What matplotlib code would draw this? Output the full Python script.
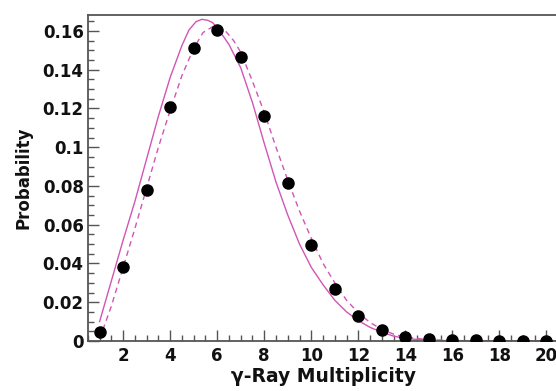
import matplotlib
matplotlib.use('Agg')
import matplotlib.pyplot as plt
from matplotlib.ticker import MultipleLocator, FuncFormatter

# measured multiplicity distribution
mult = [1, 2, 3, 4, 5, 6, 7, 8, 9, 10, 11, 12, 13, 14, 15, 16, 17, 18, 19, 20]
prob = [0.0048, 0.038, 0.078, 0.1206, 0.151, 0.1605, 0.1464, 0.1163, 0.0815, 0.0495,
        0.0268, 0.0129, 0.0057, 0.0022, 0.001, 0.0005, 0.0003, 0.0002, 0.0001, 0.0001]

# solid curve
solid_x = [1.0, 1.5, 2.0, 2.5, 3.0, 3.5, 4.0, 4.5, 4.8, 5.1, 5.35, 5.6, 5.8, 6.0, 6.5,
           7.0, 7.5, 8.0, 8.5, 9.0, 9.5, 10.0, 10.5, 11.0, 11.5, 12.0, 12.5, 13.0, 13.5,
           14.0, 15.0, 16.0, 18.0, 20.5]
solid_y = [0.010, 0.031, 0.052, 0.072, 0.094, 0.116, 0.136, 0.1525, 0.1605, 0.1648, 0.166,
           0.1655, 0.1643, 0.1618, 0.153, 0.141, 0.123, 0.102, 0.082, 0.065, 0.050, 0.038,
           0.029, 0.021, 0.015, 0.0105, 0.007, 0.0045, 0.0025, 0.0012, 0.0004, 0.0001,
           0.0, 0.0]

# dashed curve
dash_x = [1.0, 1.5, 2.0, 2.5, 3.0, 3.5, 4.0, 4.5, 5.0, 5.4, 5.85, 6.3, 6.7, 7.0, 7.5,
          8.0, 8.5, 9.0, 9.5, 10.0, 10.5, 11.0, 11.5, 12.0, 12.5, 13.0, 13.5, 14.0,
          15.0, 16.0, 18.0, 20.5]
dash_y = [0.001, 0.018, 0.038, 0.058, 0.079, 0.100, 0.119, 0.137, 0.151, 0.1592, 0.1625,
          0.1607, 0.155, 0.149, 0.134, 0.118, 0.100, 0.083, 0.067, 0.053, 0.040, 0.030,
          0.021, 0.0145, 0.0095, 0.006, 0.0035, 0.002, 0.0006, 0.0002, 0.0, 0.0]

plt.rcParams['font.family'] = ['DejaVu Sans']
plt.rcParams['font.weight'] = 'bold'

fig = plt.figure(figsize=(5.56, 3.91), dpi=100)
ax = fig.add_axes([0.158, 0.128, 0.846, 0.834])

pink = '#d255b4'
ax.plot(solid_x, solid_y, color=pink, lw=1.0, zorder=2)
ax.plot(dash_x, dash_y, color=pink, lw=1.0, ls=(0, (4, 3)), zorder=2)
ax.plot(mult, prob, 'o', color='black', ms=8, zorder=3)

ax.set_xlim(0.5, 20.5)
ax.set_ylim(0, 0.1683)

ax.xaxis.set_major_locator(MultipleLocator(2))
ax.xaxis.set_minor_locator(MultipleLocator(0.5))
ax.yaxis.set_major_locator(MultipleLocator(0.02))
ax.yaxis.set_minor_locator(MultipleLocator(0.005))
ax.yaxis.set_major_formatter(FuncFormatter(lambda v, p: '%g' % round(v, 4)))

ax.tick_params(which='both', direction='in', colors='#555555', labelcolor='#111111',
               labelsize=12, top=False, right=False)
ax.tick_params(which='major', length=8, width=1.0)
ax.tick_params(which='minor', length=4.5, width=1.0)
ax.tick_params(axis='x', pad=4)
ax.tick_params(axis='y', pad=3)
for lab in ax.get_xticklabels() + ax.get_yticklabels():
    lab.set_fontweight('bold')

for s in ax.spines.values():
    s.set_color('#555555')
    s.set_linewidth(1.3)

ax.set_xlabel('γ-Ray Multiplicity', fontsize=13.5, fontweight='bold', labelpad=1.5,
              color='#111111')
ax.set_ylabel('Probability', fontsize=12, fontweight='bold', labelpad=7,
              color='#111111')

fig.savefig('out.png', dpi=100)
